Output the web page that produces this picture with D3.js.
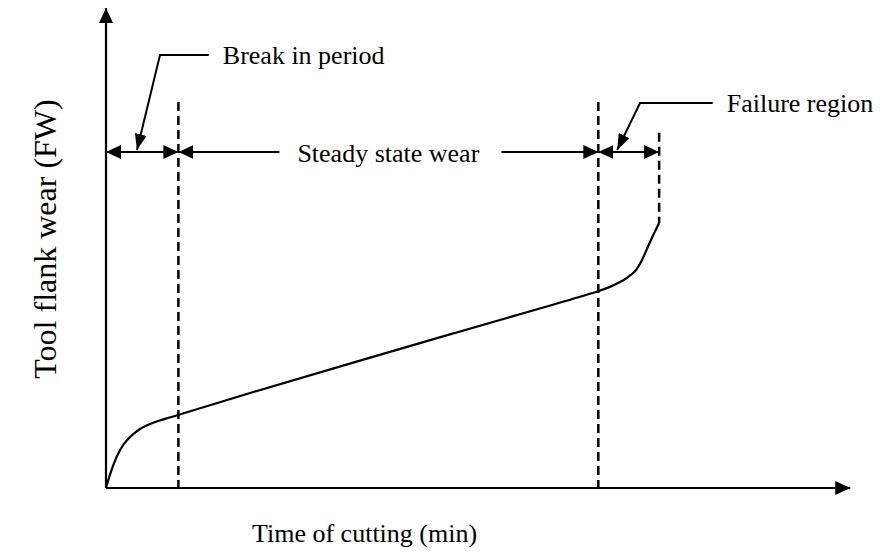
<!DOCTYPE html>
<html>
<head>
<meta charset="utf-8">
<script src="https://cdn.jsdelivr.net/npm/d3@7"></script>
<style>
  body { margin: 0; background: #fff; }
  text { font-family: "Liberation Serif", "Times New Roman", serif; fill: #000; }
</style>
</head>
<body>
<svg></svg>
<script>
// wear curve (time, flank wear), arbitrary units
let wearTime = [0, 0.41, 0.97, 1.66, 2.49, 3.45, 4.7, 6.35, 8.15, 9.94, 19.9, 47.5,
  67.96, 69.6, 71.0, 72.1, 73.1, 73.9, 74.6, 75.4, 76.4];
let wearValue = [0, 2.1, 4.6, 7.1, 9.2, 10.8, 12.3, 13.5, 14.4, 15.2, 19.8, 32.0,
  41.0, 41.9, 42.9, 43.95, 45.2, 47.1, 49.4, 52.1, 55.2];

// region boundaries on the time axis
let regionNames = ["Break in period", "Steady state wear", "Failure region"];
let regionBounds = [0, 10, 68, 76.4];

let axisLabels = ["Time of cutting (min)", "Tool flank wear (FW)"];

let width = 880;
let height = 552;
let svg = d3.select("svg")
  .attr("width", width)
  .attr("height", height);

let x = d3.scaleLinear().domain([0, 100]).range([106, 830]);
let y = d3.scaleLinear().domain([0, 100]).range([488, 8]);

let defs = svg.append("defs");
defs.append("marker")
  .attr("id", "arrow")
  .attr("viewBox", "0 -7 15 14")
  .attr("refX", 15)
  .attr("refY", 0)
  .attr("markerWidth", 15)
  .attr("markerHeight", 14)
  .attr("markerUnits", "userSpaceOnUse")
  .attr("orient", "auto-start-reverse")
  .append("path")
  .attr("d", "M0,-7L15,0L0,7Z")
  .attr("fill", "#000");

defs.append("marker")
  .attr("id", "leadArrow")
  .attr("viewBox", "0 -6 16 12")
  .attr("refX", 16)
  .attr("refY", 0)
  .attr("markerWidth", 16)
  .attr("markerHeight", 12)
  .attr("markerUnits", "userSpaceOnUse")
  .attr("orient", "auto")
  .append("path")
  .attr("d", "M0,-6L16,0L0,6Z")
  .attr("fill", "#000");

// axes with arrow tips
let axes = svg.append("g").attr("stroke", "#000").attr("stroke-width", 2.2);
axes.append("line")
  .attr("x1", x(0)).attr("y1", y(0))
  .attr("x2", x(102.8)).attr("y2", y(0))
  .attr("marker-end", "url(#arrow)");
axes.append("line")
  .attr("x1", x(0)).attr("y1", y(0))
  .attr("x2", x(0)).attr("y2", y(100))
  .attr("marker-end", "url(#arrow)");

// dashed region boundaries
let dashTops = [80.4, 80.4, 74];
let dashBottoms = [0, 0, 55.2];
svg.append("g")
  .selectAll("line")
  .data(regionBounds.slice(1))
  .enter()
  .append("line")
  .attr("x1", d => x(d))
  .attr("x2", d => x(d))
  .attr("y1", (d, i) => y(dashTops[i]))
  .attr("y2", (d, i) => y(dashBottoms[i]))
  .attr("stroke", "#000")
  .attr("stroke-width", 2.5)
  .attr("stroke-dasharray", "9,5");

// wear curve
let pts = wearTime.map((t, i) => [t, wearValue[i]]);
svg.append("path")
  .datum(pts)
  .attr("d", d3.line().x(d => x(d[0])).y(d => y(d[1])).curve(d3.curveCatmullRom.alpha(0.5)))
  .attr("fill", "none")
  .attr("stroke", "#000")
  .attr("stroke-width", 2.2);

// dimension line at the top
let dimY = y(70);
let dim = svg.append("g").attr("stroke", "#000").attr("stroke-width", 2);
dim.append("line")
  .attr("x1", x(regionBounds[0])).attr("x2", x(regionBounds[1]))
  .attr("y1", dimY).attr("y2", dimY)
  .attr("marker-start", "url(#arrow)").attr("marker-end", "url(#arrow)");
dim.append("line")
  .attr("x1", x(regionBounds[2])).attr("x2", x(regionBounds[3]))
  .attr("y1", dimY).attr("y2", dimY)
  .attr("marker-start", "url(#arrow)").attr("marker-end", "url(#arrow)");

let steadyMid = (x(regionBounds[1]) + x(regionBounds[2])) / 2;
let steady = svg.append("text")
  .attr("x", steadyMid)
  .attr("y", dimY + 10)
  .attr("text-anchor", "middle")
  .attr("font-size", 26)
  .text(regionNames[1]);
let sw = steady.node().getComputedTextLength();
dim.append("line")
  .attr("x1", x(regionBounds[1])).attr("x2", steadyMid - sw / 2 - 18)
  .attr("y1", dimY).attr("y2", dimY)
  .attr("marker-start", "url(#arrow)");
dim.append("line")
  .attr("x1", steadyMid + sw / 2 + 22).attr("x2", x(regionBounds[2]))
  .attr("y1", dimY).attr("y2", dimY)
  .attr("marker-end", "url(#arrow)");

// leaders with labels
let leaders = [
  { pts: [[14.2, 90.2], [7.46, 90.2], [4.28, 70.4]], label: regionNames[0] },
  { pts: [[83.8, 80.2], [73.76, 80.2], [70.6, 70.4]], label: regionNames[2] }
];
leaders.forEach(l => {
  svg.append("path")
    .attr("d", d3.line().x(d => x(d[0])).y(d => y(d[1]))(l.pts))
    .attr("fill", "none")
    .attr("stroke", "#000")
    .attr("stroke-width", 2)
    .attr("marker-end", "url(#leadArrow)");
  svg.append("text")
    .attr("x", x(l.pts[0][0]) + 14)
    .attr("y", y(l.pts[0][1]) + 9)
    .attr("font-size", 26)
    .text(l.label);
});

// axis titles
svg.append("text")
  .attr("x", 252)
  .attr("y", 542)
  .attr("font-size", 26)
  .text(axisLabels[0]);
svg.append("text")
  .attr("transform", "translate(56,239) rotate(-90)")
  .attr("text-anchor", "middle")
  .attr("font-size", 32)
  .text(axisLabels[1]);
</script>
</body>
</html>
